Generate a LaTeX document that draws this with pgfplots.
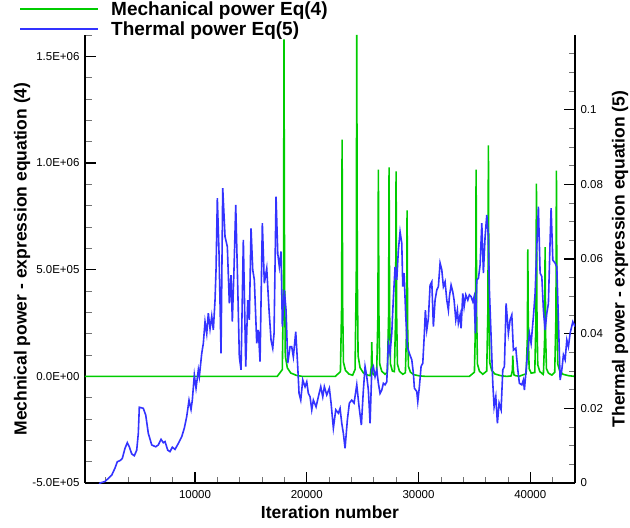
\documentclass[border=0pt]{standalone}
\usepackage{fontspec}
\setmainfont{Liberation Sans}
\usepackage{pgfplots}
\usepackage{pgfplotstable}
\pgfplotsset{compat=1.18}
\definecolor{mgreen}{RGB}{0,204,0}
\definecolor{tblue}{RGB}{51,51,255}

\pgfplotstableread{
x y
155 0
17360 0
17810 31600
17920 474000
17960 1580000
18010 474000
18080 94800
18260 39500
18560 15800
19060 4740
19560 0
22560 0
23010 22200
23120 333000
23160 1110000
23210 333000
23280 66600
23460 27750
23760 11100
24100 5000
24320 32000
24430 480000
24470 1600000
24520 480000
24590 96000
24770 40000
25070 16000
25500 5000
25670 3200
25780 48000
25814 160000
25860 48000
25930 9600
26100 4000
26255 19400
26365 290000
26405 969000
26455 290000
26525 58000
26705 24000
27005 9700
27213 20000
27323 294000
27363 980000
27413 294000
27483 59000
27663 24500
27840 22000
27950 288000
27990 961000
28040 288000
28110 58000
28290 24000
28590 9600
28824 17000
28934 233000
28974 778000
29024 233000
29094 47000
29274 19500
29574 7800
30074 2300
30574 0
34550 0
35000 19400
35110 290000
35150 969000
35200 290000
35270 58000
35450 24000
35750 9700
36100 25000
36210 325000
36250 1083000
36300 325000
36370 65000
36550 27000
36850 10800
37350 3200
37850 0
37950 0
38290 2000
38400 29000
38434 97000
38480 29000
38550 6000
38730 2400
39030 1000
39627 12000
39737 178000
39777 595000
39827 178000
39897 36000
40077 15000
40400 18000
40507 271000
40547 903000
40597 271000
40667 54000
40847 22600
41147 9000
41175 14000
41285 182000
41325 606000
41375 182000
41445 36000
41625 15000
41925 6000
42186 19300
42296 289000
42336 964000
42386 289000
42456 58000
42636 24000
42936 9600
43436 2900
43936 0
44000 0
}\greendata

\pgfplotstableread{
x y
1200 -0.002
1500 0.0000
1945 0.0004
2545 0.0021
2840 0.0040
3046 0.0057
3288 0.0060
3494 0.0066
3735 0.0093
3941 0.0108
4120 0.0097
4335 0.0078
4567 0.0073
4782 0.0088
4925 0.0133
5015 0.0203
5373 0.0200
5588 0.0182
5820 0.0133
6125 0.0102
6483 0.0097
6715 0.0102
6957 0.0117
7163 0.0108
7315 0.0111
7557 0.0088
7763 0.0084
7968 0.0096
8210 0.0090
8505 0.0106
8810 0.0124
9042 0.0147
9257 0.0178
9463 0.0222
9642 0.0197
9758 0.0222
9937 0.0289
10090 0.0254
10295 0.0303
10385 0.0285
10600 0.0347
10743 0.0374
10895 0.0432
11047 0.0400
11190 0.0455
11343 0.0413
11495 0.0447
11638 0.0410
11790 0.0490
11880 0.0571
11996 0.0763
12148 0.0615
12327 0.0347
12479 0.0790
12685 0.0660
12891 0.0633
13070 0.0481
13222 0.0557
13338 0.0432
13490 0.0575
13643 0.0745
13786 0.0571
13965 0.0338
14117 0.0303
14323 0.0651
14538 0.0312
14717 0.0490
14860 0.0437
15012 0.0682
15164 0.0571
15307 0.0544
15522 0.0374
15665 0.0410
15818 0.0325
16023 0.0696
16202 0.0535
16417 0.0575
16623 0.0463
16802 0.0383
16954 0.0361
17071 0.0401
17250 0.0767
17402 0.0615
17545 0.0579
17697 0.0620
17813 0.0419
17992 0.0517
18145 0.0463
18297 0.0321
18503 0.0365
18650 0.0365
18798 0.0338
19012 0.0405
19174 0.0321
19308 0.0240
19460 0.0222
19639 0.0276
19845 0.0258
19997 0.0271
20140 0.0240
20293 0.0231
20445 0.0196
20588 0.0222
20830 0.0204
21035 0.0231
21250 0.0258
21429 0.0231
21572 0.0258
21787 0.0236
22020 0.0254
22173 0.0214
22378 0.0147
22593 0.0196
22825 0.0187
22978 0.0200
23130 0.0160
23273 0.0133
23425 0.0093
23631 0.0169
23810 0.0214
24025 0.0222
24231 0.0214
24472 0.0263
24678 0.0204
24884 0.0155
25063 0.0249
25215 0.0312
25367 0.0285
25510 0.0249
25663 0.0160
25815 0.0303
25958 0.0312
26110 0.0285
26262 0.0303
26405 0.0267
26558 0.0240
26710 0.0249
26853 0.0267
27005 0.0263
27157 0.0271
27300 0.0374
27453 0.0347
27605 0.0401
27748 0.0496
27900 0.0579
28052 0.0544
28195 0.0624
28348 0.0673
28500 0.0642
28589 0.0526
28706 0.0562
28858 0.0446
29001 0.0365
29180 0.0347
29395 0.0330
29538 0.0294
29628 0.0254
29842 0.0245
29932 0.0218
30075 0.0258
30227 0.0312
30379 0.0321
30522 0.0401
30612 0.0463
30737 0.0410
30880 0.0441
31033 0.0530
31185 0.0539
31328 0.0419
31480 0.0490
31632 0.0517
31775 0.0526
31928 0.0589
32080 0.0571
32223 0.0526
32375 0.0539
32527 0.0490
32670 0.0463
32760 0.0499
32912 0.0530
33064 0.0512
33181 0.0490
33333 0.0437
33476 0.0463
33565 0.0428
33718 0.0450
33807 0.0414
33959 0.0508
34076 0.0472
34228 0.0504
34407 0.0490
34550 0.0504
34702 0.0499
34854 0.0486
34971 0.0499
35087 0.0401
35213 0.0544
35356 0.0548
35508 0.0584
35660 0.0696
35803 0.0562
35955 0.0660
36107 0.0718
36250 0.0660
36340 0.0517
36492 0.0392
36644 0.0267
36761 0.0204
36913 0.0231
37056 0.0160
37208 0.0214
37387 0.0196
37539 0.0303
37682 0.0312
37835 0.0481
38040 0.0401
38193 0.0437
38345 0.0450
38488 0.0356
38703 0.0361
38882 0.0303
39025 0.0267
39240 0.0263
39383 0.0276
39472 0.0249
39625 0.0303
39777 0.0356
39920 0.0401
40072 0.0374
40278 0.0446
40430 0.0508
40582 0.0633
40725 0.0740
40878 0.0562
41030 0.0553
41173 0.0463
41325 0.0410
41477 0.0455
41620 0.0481
41773 0.0651
41862 0.0736
42014 0.0597
42220 0.0589
42372 0.0579
42515 0.0437
42668 0.0276
42820 0.0303
42963 0.0343
43115 0.0330
43267 0.0383
43410 0.0365
43563 0.0401
43804 0.0432
44010 0.0419
}\bluedata

\begin{document}
\begin{tikzpicture}
\pgfplotsset{
  common/.style={
    scale only axis, width=490pt, height=448pt,
    xmin=155, xmax=44000,
    tick align=inside,
    major tick length=11pt, minor tick length=6.5pt,
    every tick/.style={black, line width=1.2pt},
    every minor tick/.style={black!55, line width=0.7pt},
    axis line style={line width=1.4pt, black},
    tick label style={font=\fontsize{11.5}{13}\selectfont},
    label style={font=\fontsize{17.5}{20}\selectfont\bfseries},
    scaled x ticks=false, scaled y ticks=false,
  }
}
\begin{axis}[common, name=ax,
  axis x line*=bottom, axis y line*=left,
  ymin=-500000, ymax=1600000,
  xtick={10000,20000,30000,40000}, xticklabels={10000,20000,30000,40000},
  xticklabel style={yshift=-4pt},
  yticklabel style={xshift=-2pt},
  minor xtick={2000,4000,6000,8000,12000,14000,16000,18000,22000,24000,26000,28000,32000,34000,36000,38000,42000},
  ytick={-500000,0,500000,1000000,1500000},
  yticklabels={-5.0E+05,0.0E+00,5.0E+05,1.0E+06,1.5E+06},
  minor ytick={-400000,-300000,-200000,-100000,100000,200000,300000,400000,600000,700000,800000,900000,1100000,1200000,1300000,1400000,1600000},
  xlabel={Iteration number},
  ylabel={Mechnical power - expression equation (4)},
  xlabel style={at={(axis description cs:0.5,-0.0647)}, anchor=center},
  ylabel style={at={(axis description cs:-0.1286,0.5)}, anchor=center},
]
\addplot[mgreen, line width=1.6pt] table {\greendata};
\end{axis}
\begin{axis}[common,
  axis x line=none, axis y line*=right,
  ymin=0, ymax=0.12,
  ytick={0,0.02,0.04,0.06,0.08,0.1},
  yticklabels={0,0.02,0.04,0.06,0.08,0.1},
  yticklabel style={xshift=2pt},
  minor ytick={0.005,0.01,0.015,0.025,0.03,0.035,0.045,0.05,0.055,0.065,0.07,0.075,0.085,0.09,0.095,0.105,0.11,0.115},
  ylabel={Thermal power - expression equation (5)},
  ylabel style={at={(axis description cs:1.0918,0.5)}, anchor=center},
  legend style={at={(axis description cs:0,1)}, anchor=north west,
    xshift=-66pt, yshift=34.5pt, draw=none, fill=none, inner sep=0pt,
    font=\fontsize{19}{21}\selectfont\bfseries,
    nodes={inner sep=1pt}, row sep=2.5pt},
  legend cell align=left,
  legend image code/.code={\draw[#1] (0pt,0pt) -- (78pt,0pt); \path[draw=none] (90pt,0pt) circle (0.1pt);},
]
\addlegendimage{mgreen, line width=1.8pt}
\addlegendentry{Mechanical power Eq(4)}
\addlegendimage{draw=tblue, line width=1.8pt}
\addlegendentry{Thermal power Eq(5)}
\addplot[tblue, line width=1.6pt, forget plot] table {\bluedata};
\end{axis}
\pgfresetboundingbox
\path ([xshift=-85pt,yshift=-44pt]ax.south west) rectangle ([xshift=55pt,yshift=35pt]ax.north east);
\end{tikzpicture}
\end{document}
